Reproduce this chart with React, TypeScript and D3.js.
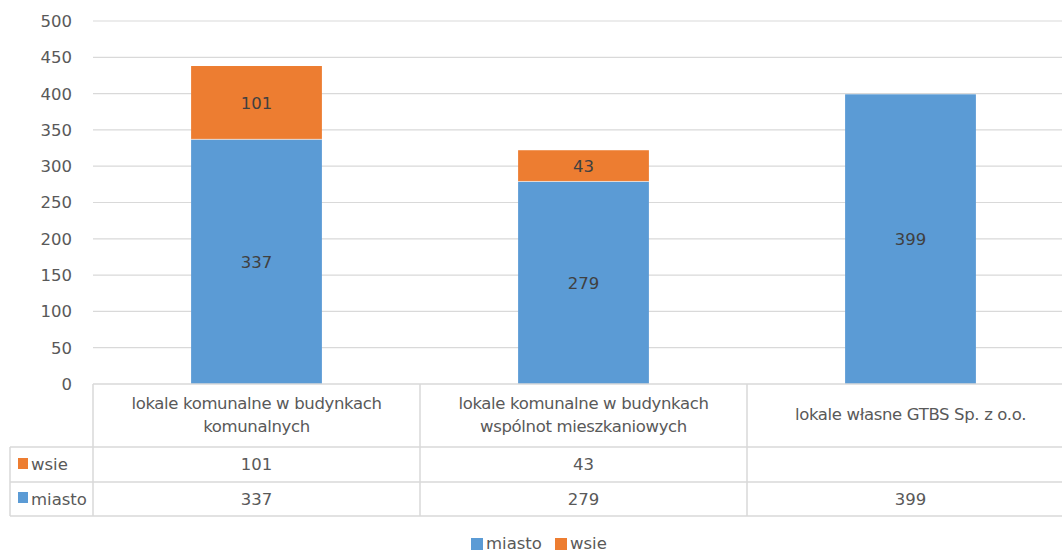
import React from "react";
import * as d3 from "d3";

const categories = [
  ["lokale komunalne w budynkach", "komunalnych"],
  ["lokale komunalne w budynkach", "wspólnot mieszkaniowych"],
  ["lokale własne GTBS Sp. z o.o."],
];
const miasto = [337, 279, 399];
const wsie: (number | null)[] = [101, 43, null];
const yTicks = [0, 50, 100, 150, 200, 250, 300, 350, 400, 450, 500];
const seriesNames = ["miasto", "wsie"];
const colors = { miasto: "#5B9BD5", wsie: "#ED7D31" };

const W = 1062;
const H = 554;
const plotLeft = 93;
const plotRight = 1074;
const plotTop = 21;
const plotBottom = 384;
const font = "DejaVu Sans, sans-serif";
const textColor = "#595959";
const grid = "#D9D9D9";
const fs = 16.5;

export default function App() {
  const x = d3
    .scaleBand<number>()
    .domain(d3.range(categories.length))
    .range([plotLeft, plotRight])
    .paddingInner(0)
    .paddingOuter(0);
  const y = d3.scaleLinear().domain([0, 500]).range([plotBottom, plotTop]);
  const bw = x.bandwidth() * 0.4;

  const rowHeader = [384, 447];
  const rowWsie = [447, 482];
  const rowMiasto = [482, 516];
  const tableLeft = 10;

  return (
    <svg
      width={W}
      height={H}
      style={{ position: "absolute", left: 0, top: 0, background: "#fff" }}
      fontFamily={font}
    >
      {yTicks.map((t) => (
        <g key={t}>
          {t > 0 && (
            <line x1={plotLeft} x2={plotRight} y1={y(t)} y2={y(t)} stroke={grid} strokeWidth={1.2} />
          )}
          <text x={72} y={y(t)} dy="0.36em" textAnchor="end" fontSize={fs} fill={textColor}>
            {t}
          </text>
        </g>
      ))}
      {categories.map((c, i) => {
        const cx = (x(i) as number) + x.bandwidth() / 2;
        const m = miasto[i];
        const w = wsie[i];
        return (
          <g key={i}>
            <rect x={cx - bw / 2} y={y(m)} width={bw} height={y(0) - y(m)} fill={colors.miasto} />
            <text x={cx} y={(y(m) + y(0)) / 2} dy="0.36em" textAnchor="middle" fontSize={fs} fill="#404040">
              {m}
            </text>
            {w != null && (
              <>
                <rect x={cx - bw / 2} y={y(m + w)} width={bw} height={y(m) - y(m + w)} fill={colors.wsie} />
                <line x1={cx - bw / 2} x2={cx + bw / 2} y1={y(m)} y2={y(m)} stroke="#fff" strokeWidth={1} strokeOpacity={0.6} />
                <text x={cx} y={(y(m) + y(m + w)) / 2} dy="0.36em" textAnchor="middle" fontSize={fs} fill="#404040">
                  {w}
                </text>
              </>
            )}
          </g>
        );
      })}
      {/* table */}
      <g stroke={grid} strokeWidth={1.5} fill="none">
        <line x1={plotLeft} x2={plotRight} y1={rowHeader[0]} y2={rowHeader[0]} />
        <line x1={tableLeft} x2={plotRight} y1={rowWsie[0]} y2={rowWsie[0]} />
        <line x1={tableLeft} x2={plotRight} y1={rowMiasto[0]} y2={rowMiasto[0]} />
        <line x1={tableLeft} x2={plotRight} y1={rowMiasto[1]} y2={rowMiasto[1]} />
        <line x1={tableLeft} x2={tableLeft} y1={rowWsie[0]} y2={rowMiasto[1]} />
        {d3.range(categories.length).map((i) => {
          const xx = x(i) as number;
          return <line key={i} x1={xx} x2={xx} y1={rowHeader[0]} y2={rowMiasto[1]} />;
        })}
      </g>
      {categories.map((c, i) => {
        const cx = (x(i) as number) + x.bandwidth() / 2;
        const mid = (rowHeader[0] + rowHeader[1]) / 2 - 1;
        const lh = 23;
        return (
          <g key={i}>
            {c.map((line, j) => (
              <text
                key={j}
                x={cx}
                y={mid + (j - (c.length - 1) / 2) * lh}
                dy="0.36em"
                textAnchor="middle"
                fontSize={fs}
                fill={textColor}
                letterSpacing={-0.35}
              >
                {line}
              </text>
            ))}
            {wsie[i] != null && (
              <text x={cx} y={(rowWsie[0] + rowWsie[1]) / 2} dy="0.36em" textAnchor="middle" fontSize={fs} fill={textColor}>
                {wsie[i]}
              </text>
            )}
            <text x={cx} y={(rowMiasto[0] + rowMiasto[1]) / 2} dy="0.36em" textAnchor="middle" fontSize={fs} fill={textColor}>
              {miasto[i]}
            </text>
          </g>
        );
      })}
      {/* row legend keys */}
      <rect x={18} y={458} width={10} height={11} fill={colors.wsie} />
      <text x={31} y={(rowWsie[0] + rowWsie[1]) / 2} dy="0.36em" fontSize={fs} fill={textColor}>
        wsie
      </text>
      <rect x={18} y={492} width={10} height={11} fill={colors.miasto} />
      <text x={31} y={(rowMiasto[0] + rowMiasto[1]) / 2} dy="0.36em" fontSize={fs} fill={textColor}>
        miasto
      </text>
      {/* bottom legend */}
      {(() => {
        const positions = [471, 555];
        return seriesNames.map((s, i) => (
          <g key={s}>
            <rect x={positions[i]} y={538} width={12} height={12} fill={(colors as any)[s]} />
            <text x={positions[i] + 15} y={549} fontSize={fs} fill={textColor}>
              {s}
            </text>
          </g>
        ));
      })()}
    </svg>
  );
}
